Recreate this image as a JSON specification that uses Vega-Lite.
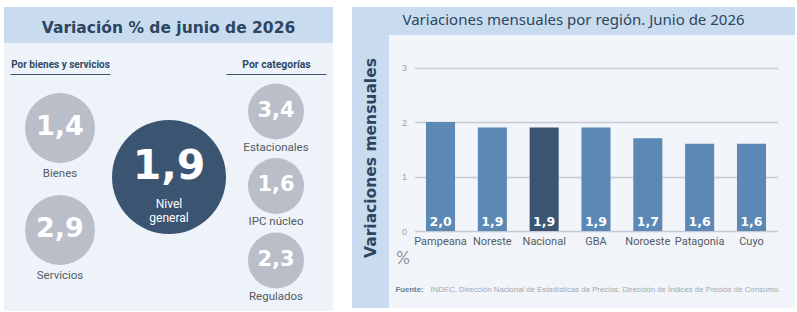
{
  "$schema": "https://vega.github.io/schema/vega-lite/v6.json",
  "background": "white",
  "padding": {"left": 4, "top": 7, "right": 0, "bottom": 0},
  "config": {
    "view": {"stroke": null},
    "locale": {"number": {"decimal": ",", "thousands": ".", "grouping": [3], "currency": ["$", ""]}}
  },
  "datasets": {
    "bienes_servicios": [
      {"grupo": "Por bienes y servicios", "indicador": "Bienes", "valor": 1.4},
      {"grupo": "Por bienes y servicios", "indicador": "Servicios", "valor": 2.9}
    ],
    "nivel_general": [
      {"indicador": "Nivel general", "valor": 1.9}
    ],
    "categorias": [
      {"grupo": "Por categorías", "indicador": "Estacionales", "valor": 3.4},
      {"grupo": "Por categorías", "indicador": "IPC núcleo", "valor": 1.6},
      {"grupo": "Por categorías", "indicador": "Regulados", "valor": 2.3}
    ],
    "regiones": [
      {"region": "Pampeana", "valor": 2.0},
      {"region": "Noreste", "valor": 1.9},
      {"region": "Nacional", "valor": 1.9},
      {"region": "GBA", "valor": 1.9},
      {"region": "Noroeste", "valor": 1.7},
      {"region": "Patagonia", "valor": 1.6},
      {"region": "Cuyo", "valor": 1.6}
    ]
  },
  "spacing": 19,
  "hconcat": [
    {
      "spacing": 0,
      "vconcat": [
        {
          "width": 329, "height": 36,
          "view": {"fill": "#c9dcef", "stroke": null},
          "data": {"values": [{"titulo": "Variación % de junio de 2026"}]},
          "mark": {"type": "text", "font": "DejaVu Sans", "fontWeight": "bold", "fontSize": 15.5, "color": "#2c4560", "dy": 2.5},
          "encoding": {"text": {"field": "titulo"}}
        },
        {
          "spacing": 0,
          "bounds": "flush",
          "hconcat": [
            {
              "width": 108, "height": 268,
              "view": {"fill": "#eef3f9", "stroke": null},
              "data": {"name": "bienes_servicios"},
              "encoding": {
                "x": {"field": "grupo", "type": "nominal",
                      "scale": {"type": "point", "range": [6, 106], "padding": 0},
                      "axis": {"orient": "top", "offset": -31, "domainColor": "#3d5470", "domainWidth": 1.2,
                               "ticks": false, "labels": false, "grid": false,
                               "title": "Por bienes y servicios", "titleFont": "Roboto", "titleLimit": 0,
                               "titleAnchor": "middle", "titleAlign": "center",
                               "titleFontSize": 10, "titleFontWeight": "bold", "titleColor": "#2f4a66", "titlePadding": 5}},
                "y": {"field": "indicador", "type": "nominal", "sort": null,
                      "scale": {"type": "point", "range": [85, 187], "padding": 0}, "axis": null}
              },
              "layer": [
                {"mark": {"type": "circle", "size": 4900, "opacity": 1, "color": "#b9bec9"}},
                {"mark": {"type": "text", "font": "DejaVu Sans", "fontWeight": "bold", "fontSize": 27, "color": "white", "dy": -1},
                 "encoding": {"text": {"field": "valor", "type": "quantitative", "format": ".1f"}}},
                {"mark": {"type": "text", "font": "Roboto", "fontSize": 11.5, "color": "#555b63", "dy": 46},
                 "encoding": {"text": {"field": "indicador"}}}
              ]
            },
            {
              "width": 114, "height": 268,
              "view": {"fill": "#eef3f9", "stroke": null},
              "data": {"name": "nivel_general"},
              "layer": [
                {"mark": {"type": "circle", "size": 12996, "opacity": 1, "color": "#3a5472"}, "encoding": {}},
                {"mark": {"type": "text", "font": "DejaVu Sans", "fontWeight": "bold", "fontSize": 41, "color": "white", "dy": -10},
                 "encoding": {"text": {"field": "valor", "type": "quantitative", "format": ".1f"}}},
                {"mark": {"type": "text", "font": "Roboto", "fontSize": 12, "color": "white", "lineBreak": " ", "lineHeight": 13.5, "dy": 27},
                 "encoding": {"text": {"field": "indicador"}}}
              ]
            },
            {
              "width": 107, "height": 268,
              "view": {"fill": "#eef3f9", "stroke": null},
              "data": {"name": "categorias"},
              "encoding": {
                "x": {"field": "grupo", "type": "nominal",
                      "scale": {"type": "point", "range": [0, 100], "padding": 0},
                      "axis": {"orient": "top", "offset": -31, "domainColor": "#3d5470", "domainWidth": 1.2,
                               "ticks": false, "labels": false, "grid": false,
                               "title": "Por categorías", "titleFont": "Roboto", "titleLimit": 0,
                               "titleAnchor": "middle", "titleAlign": "center",
                               "titleFontSize": 10.4, "titleFontWeight": "bold", "titleColor": "#2f4a66", "titlePadding": 5}},
                "y": {"field": "indicador", "type": "nominal", "sort": null,
                      "scale": {"type": "point", "range": [68.5, 217.5], "padding": 0}, "axis": null}
              },
              "layer": [
                {"mark": {"type": "circle", "size": 3136, "opacity": 1, "color": "#b9bec9"}},
                {"mark": {"type": "text", "font": "DejaVu Sans", "fontWeight": "bold", "fontSize": 21, "color": "white", "dy": -1},
                 "encoding": {"text": {"field": "valor", "type": "quantitative", "format": ".1f"}}},
                {"mark": {"type": "text", "font": "Roboto", "fontSize": 11.5, "color": "#555b63", "dy": 36},
                 "encoding": {"text": {"field": "indicador"}}}
              ]
            }
          ]
        }
      ]
    },
    {
      "spacing": 0,
      "vconcat": [
        {
          "width": 443, "height": 28,
          "view": {"fill": "#c9dcef", "stroke": null},
          "data": {"values": [{"titulo": "Variaciones mensuales por región. Junio de 2026"}]},
          "mark": {"type": "text", "font": "Noto Sans", "fontSize": 15, "color": "#2c4560", "dy": -1},
          "encoding": {"text": {"field": "titulo"}}
        },
        {
          "spacing": 0,
          "bounds": "flush",
          "hconcat": [
            {
              "width": 37, "height": 273,
              "view": {"fill": "#c9dcef", "stroke": null},
              "data": {"values": [{"titulo": "Variaciones mensuales"}]},
              "mark": {"type": "text", "font": "DejaVu Sans", "fontWeight": "bold", "fontSize": 15.5, "color": "#2c4560", "angle": 270, "dx": 13.5},
              "encoding": {"text": {"field": "titulo"}}
            },
            {
              "width": 406, "height": 273,
              "view": {"fill": "#f1f5fa", "stroke": null},
              "data": {"name": "regiones"},
              "encoding": {
                "y": {"field": "valor", "type": "quantitative",
                      "scale": {"domain": [0, 3], "range": [196, 32.5], "nice": false},
                      "axis": {"orient": "left", "offset": -25.6, "values": [0, 1, 2, 3], "domain": false, "ticks": false,
                               "labelPadding": 8, "labelFont": "Liberation Sans", "labelFontSize": 9, "labelColor": "#9aa0a8",
                               "grid": true, "gridColor": "#c6cad2", "gridWidth": 1.5,
                               "title": "%", "titleAngle": 0, "titleX": -12, "titleY": 223, "titleAlign": "center", "titleBaseline": "middle",
                               "titleFont": "Lato", "titleFontSize": 17, "titleFontWeight": "normal", "titleColor": "#8e949c"}}
              },
              "layer": [
                {
                  "mark": {"type": "bar"},
                  "encoding": {
                    "x": {"field": "region", "type": "nominal", "sort": null,
                          "scale": {"range": [25.6, 388.4], "paddingInner": 0.44, "paddingOuter": 0.22},
                          "axis": {"orient": "bottom", "offset": -77, "domain": false, "ticks": false, "grid": false, "labelAngle": 0,
                                   "labelPadding": 4, "labelFont": "Roboto", "labelFontSize": 11, "labelColor": "#555b63",
                                   "title": "Fuente:", "titleX": 6, "titleY": 58, "titleAlign": "left", "titleBaseline": "middle",
                                   "titleFont": "Liberation Sans", "titleFontSize": 7.8, "titleFontWeight": "bold", "titleColor": "#6b7d93"}},
                    "color": {"condition": {"test": "datum.region === 'Nacional'", "value": "#3a5472"}, "value": "#5b88b4"}
                  }
                },
                {
                  "mark": {"type": "text", "font": "DejaVu Sans", "fontWeight": "bold", "fontSize": 12.5, "color": "white", "dy": -9},
                  "encoding": {
                    "x": {"field": "region", "type": "nominal", "sort": null,
                          "axis": {"orient": "bottom", "offset": -77, "domain": false, "ticks": false, "grid": false, "labels": false,
                                   "title": "INDEC, Dirección Nacional de Estadísticas de Precios. Dirección de Índices de Precios de Consumo.",
                                   "titleX": 41, "titleY": 58, "titleAlign": "left", "titleBaseline": "middle", "titleLimit": 0,
                                   "titleFont": "Liberation Sans", "titleFontSize": 7.8, "titleFontWeight": "normal", "titleColor": "#a3a7ad"}},
                    "y": {"datum": 0},
                    "text": {"field": "valor", "type": "quantitative", "format": ".1f"}
                  }
                }
              ],
              "resolve": {"axis": {"x": "independent"}}
            }
          ]
        }
      ]
    }
  ]
}
